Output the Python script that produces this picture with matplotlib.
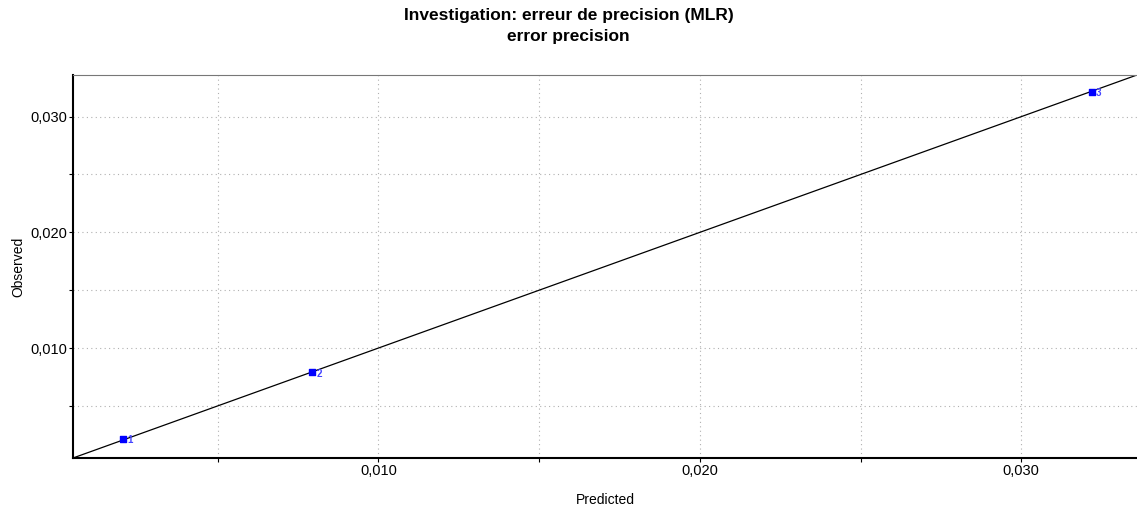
import matplotlib.pyplot as plt
from matplotlib.ticker import MultipleLocator, FuncFormatter

plt.rcParams['font.family'] = ['Liberation Sans', 'DejaVu Sans']

# observations (predicted vs observed)
obs_ids = ["1", "2", "3"]
predicted = [0.00205, 0.00795, 0.0322]
observed = [0.00215, 0.0079, 0.0321]

lo, hi = 0.0005, 0.0336

fig = plt.figure(figsize=(11.37, 5.09), dpi=100)
ax = fig.add_axes([0.0642, 0.1002, 0.9358, 0.7525])

# y = x reference line
ax.plot([lo, hi], [lo, hi], color='black', linewidth=0.9, zorder=2)

ax.scatter(predicted, observed, marker='s', s=16, color='#0000ff', zorder=3)
for px, py, name in zip(predicted, observed, obs_ids):
    ax.annotate(name, (px, py), xytext=(3, -3), textcoords='offset points',
                fontsize=7, color='#4444ff', fontweight='bold', zorder=4)

ax.set_xlim(lo, hi)
ax.set_ylim(lo, hi)

comma = FuncFormatter(lambda v, p: f"{v:.3f}".replace('.', ','))
for axis in (ax.xaxis, ax.yaxis):
    axis.set_major_locator(MultipleLocator(0.010))
    axis.set_minor_locator(MultipleLocator(0.005))
    axis.set_major_formatter(comma)

ax.grid(which='both', color='#b0b0b0', linestyle=(0, (1, 3)), linewidth=0.8)
ax.tick_params(which='both', direction='out', length=3, width=0.8, pad=1,
               labelsize=10.5)

ax.spines['left'].set_linewidth(1.5)
ax.spines['bottom'].set_linewidth(1.5)
ax.spines['top'].set_color('#777777')
ax.spines['right'].set_visible(False)

ax.set_xlabel("Predicted", fontsize=10, labelpad=11)
ax.set_ylabel("Observed", fontsize=10, labelpad=4)

fig.suptitle("Investigation: erreur de precision (MLR)\nerror precision",
             fontsize=12.5, fontweight='bold', y=0.985, linespacing=1.5)

fig.savefig('out.png', dpi=100)
